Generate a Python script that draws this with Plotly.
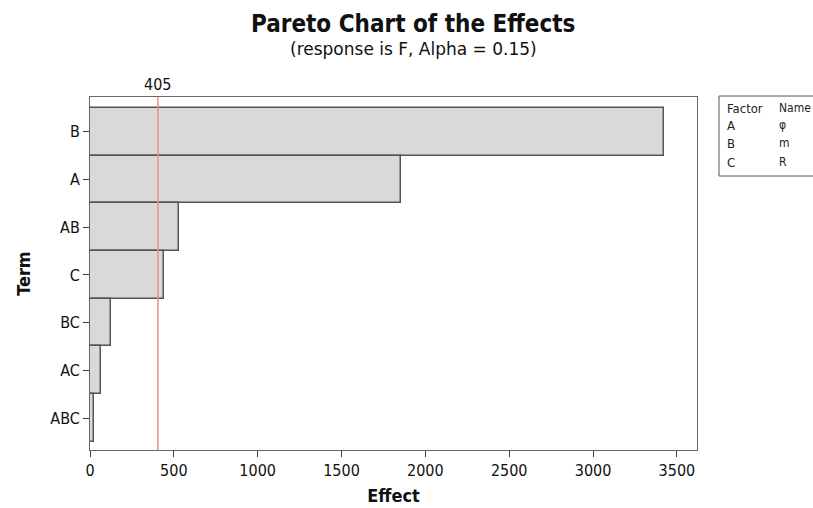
import plotly.graph_objects as go

# Pareto chart data: standardized effects by term (largest first)
terms = ["B", "A", "AB", "C", "BC", "AC", "ABC"]
effects = [3425, 1855, 531, 441, 125, 66, 24]
critical_value = 405
x_ticks = [0, 500, 1000, 1500, 2000, 2500, 3000, 3500]

factor_rows = [("Factor", "Name"), ("A", "φ"), ("B", "m"), ("C", "R")]

FONT = "DejaVu Sans Condensed, DejaVu Sans, sans-serif"
W, H = 813, 508
ML, MR, MT, MB = 90, 116, 97, 58
pw = W - ML - MR
ph = H - MT - MB


def px(xp):
    """pixel x -> paper x"""
    return (xp - ML) / pw


def py(yp):
    """pixel y (from top) -> paper y"""
    return (H - MB - yp) / ph


fig = go.Figure()
fig.add_trace(go.Bar(
    x=effects,
    y=list(range(len(terms))),
    orientation="h",
    width=1.0,
    marker=dict(color="#d9d9d9", line=dict(color="#555555", width=1.5)),
    hoverinfo="x",
))

# reference line at the critical effect
fig.add_shape(type="line", xref="x", yref="paper", x0=critical_value, x1=critical_value,
              y0=0, y1=1, line=dict(color="#f08a8a", width=1.5))
fig.add_annotation(x=critical_value, y=1, xref="x", yref="paper", yanchor="bottom",
                   text=str(critical_value), showarrow=False, yshift=1,
                   font=dict(family=FONT, size=16, color="#111"))

# titles
fig.add_annotation(x=px(413), y=py(8), xref="paper", yref="paper",
                   text="<b>Pareto Chart of the Effects</b>", showarrow=False,
                   font=dict(family=FONT, size=24, color="#111"))
fig.add_annotation(x=px(413), y=py(37), xref="paper", yref="paper",
                   text="(response is F, Alpha = 0.15)", showarrow=False,
                   font=dict(family="DejaVu Sans, sans-serif", size=17, color="#111"))

# factor/name table at the right edge
box_x0, box_y0, box_x1, box_y1 = 719, 96, 830, 176
rows_y = [99, 116, 134, 153]
fig.add_shape(type="rect", xref="paper", yref="paper",
              x0=px(box_x0), x1=px(box_x1), y0=py(box_y1), y1=py(box_y0),
              line=dict(color="#555", width=1), fillcolor="white", layer="below")
for (left, right), ry in zip(factor_rows, rows_y):
    fig.add_annotation(x=px(725), y=py(ry), xref="paper", yref="paper", xanchor="left",
                       text=left, showarrow=False, font=dict(family=FONT, size=13, color="#222"))
    fig.add_annotation(x=px(777), y=py(ry), xref="paper", yref="paper", xanchor="left",
                       text=right, showarrow=False, font=dict(family=FONT, size=12, color="#222"))

fig.update_layout(
    width=W, height=H,
    margin=dict(l=ML, r=MR, t=MT, b=MB, autoexpand=False),
    paper_bgcolor="white", plot_bgcolor="white",
    showlegend=False,
    bargap=0,
    xaxis=dict(range=[0, 3620], tickvals=x_ticks, ticks="outside", ticklen=6,
               tickcolor="#444", showgrid=False, zeroline=False, automargin=False,
               showline=True, linecolor="#666", linewidth=1, mirror=True,
               tickfont=dict(family=FONT, size=16, color="#111"),
               title=dict(text="<b>Effect</b>", font=dict(family=FONT, size=18, color="#111"), standoff=10)),
    yaxis=dict(range=[6.67, -0.73], tickvals=list(range(len(terms))), ticktext=terms,
               ticks="outside", ticklen=6, tickcolor="#444", showgrid=False, zeroline=False,
               automargin=False,
               showline=True, linecolor="#666", linewidth=1, mirror=True,
               tickfont=dict(family=FONT, size=16, color="#111"),
               title=dict(text="<b>Term</b>", font=dict(family=FONT, size=18, color="#111"), standoff=14)),
)

fig.write_html("out.html")
